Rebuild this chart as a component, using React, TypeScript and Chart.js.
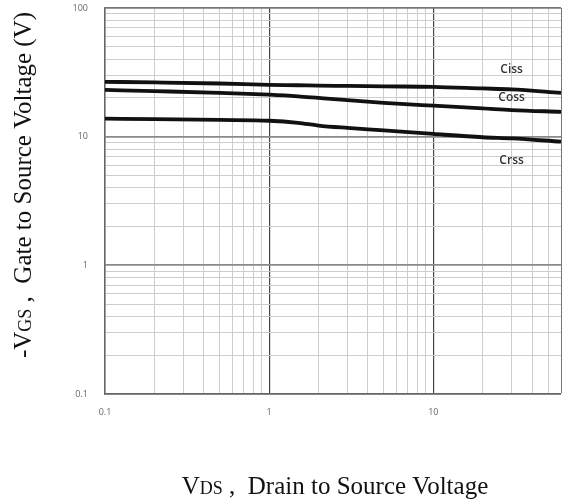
import React, { useEffect, useRef } from "react";
import { Chart, registerables } from "chart.js";

Chart.register(...registerables);

const vds = [0.1, 0.2, 0.5, 1, 1.5, 2, 3, 5, 10, 20, 30, 60];
const ciss = [26.7, 26.4, 25.9, 25.3, 25.1, 24.9, 24.8, 24.6, 24.4, 23.7, 23.3, 21.9];
const coss = [23.1, 22.6, 21.9, 21.2, 20.6, 20.0, 19.2, 18.3, 17.4, 16.6, 16.1, 15.6];
const crss = [13.8, 13.7, 13.5, 13.3, 12.8, 12.2, 11.7, 11.2, 10.5, 9.9, 9.7, 9.15];

const seriesNames = ["Ciss", "Coss", "Crss"];
// annotation anchor (data coords) for each series name
const nameX = [30, 30, 30];
const nameY = [33, 20, 6.5];

const xTicks = [0.1, 0.2, 0.3, 0.4, 0.5, 0.6, 0.7, 0.8, 0.9, 1, 2, 3, 4, 5, 6, 7, 8, 9, 10, 20, 30, 40, 50, 60];
const yTicks = [0.1, 0.2, 0.3, 0.4, 0.5, 0.6, 0.7, 0.8, 0.9, 1, 2, 3, 4, 5, 6, 7, 8, 9, 10, 20, 30, 40, 50, 60, 70, 80, 90, 100];
const xLabelVals = [0.1, 1, 10];
const yLabelVals = [0.1, 1, 10, 100];

const xTitleMain = "V";
const xTitleSub = "DS";
const xTitleRest = " ,  Drain to Source Voltage";
const yTitlePre = "-V";
const yTitleSub = "GS";
const yTitleRest = " ,  Gate to Source Voltage (V)";

const isDecade = (v: number) => Math.abs(Math.log10(v) - Math.round(Math.log10(v))) < 1e-6;
const inList = (v: number, list: number[]) => list.some((l) => Math.abs(l - v) / l < 1e-6);

const titlesPlugin = {
  id: "axisTitles",
  afterDraw(chart: any) {
    const ctx = chart.ctx;
    const area = chart.chartArea;
    const big = '25px "Liberation Serif", "Times New Roman", serif';
    const small = '18px "Liberation Serif", "Times New Roman", serif';
    ctx.save();
    ctx.fillStyle = "#111";
    ctx.textBaseline = "alphabetic";
    // x title
    ctx.font = big;
    const w1 = ctx.measureText(xTitleMain).width;
    const w3 = ctx.measureText(xTitleRest).width;
    ctx.font = small;
    const w2 = ctx.measureText(xTitleSub).width;
    const total = w1 + w2 + w3;
    let x = (area.left + area.right) / 2 + 2 - total / 2;
    const yb = 494;
    ctx.textAlign = "left";
    ctx.font = big;
    ctx.fillText(xTitleMain, x, yb);
    x += w1;
    ctx.font = small;
    ctx.fillText(xTitleSub, x, yb);
    x += w2;
    ctx.font = big;
    ctx.fillText(xTitleRest, x, yb);

    // y title (rotated)
    ctx.translate(31, 185);
    ctx.rotate(-Math.PI / 2);
    ctx.font = big;
    const a1 = ctx.measureText(yTitlePre).width;
    const a3 = ctx.measureText(yTitleRest).width;
    ctx.font = small;
    const a2 = ctx.measureText(yTitleSub).width;
    let p = -(a1 + a2 + a3) / 2;
    ctx.font = big;
    ctx.fillText(yTitlePre, p, 0);
    p += a1;
    ctx.font = small;
    ctx.fillText(yTitleSub, p, 0);
    p += a2;
    ctx.font = big;
    ctx.fillText(yTitleRest, p, 0);
    ctx.restore();

    // series names
    const xs = chart.scales.x;
    const ys = chart.scales.y;
    ctx.save();
    ctx.font = '600 12px "Open Sans", "Noto Sans", sans-serif';
    ctx.fillStyle = "#333";
    ctx.textAlign = "center";
    ctx.textBaseline = "middle";
    seriesNames.forEach((n, i) => {
      ctx.fillText(n, xs.getPixelForValue(nameX[i]), ys.getPixelForValue(nameY[i]));
    });
    ctx.restore();
  },
};

export default function App() {
  const ref = useRef<HTMLCanvasElement | null>(null);
  useEffect(() => {
    if (!ref.current) return;
    const mk = (d: number[]) => vds.map((v, i) => ({ x: v, y: d[i] }));
    const ds = [ciss, coss, crss].map((d, i) => ({
      label: seriesNames[i],
      data: mk(d),
      borderColor: "#111",
      borderWidth: 3.8,
      pointRadius: 0,
      cubicInterpolationMode: "monotone" as const,
      fill: false,
    }));
    const chart = new Chart(ref.current, {
      type: "line",
      data: { datasets: ds },
      plugins: [titlesPlugin],
      options: {
        animation: false,
        responsive: false,
        maintainAspectRatio: false,
        layout: { padding: { left: 0, top: 8, right: 7, bottom: 0 } },
        plugins: { legend: { display: false }, tooltip: { enabled: false } },
        scales: {
          x: {
            type: "logarithmic",
            min: 0.1,
            max: 60,
            afterBuildTicks: (s: any) => {
              s.ticks = xTicks.map((v) => ({ value: v }));
            },
            afterFit: (s: any) => {
              s.height = 105;
              s.paddingLeft = 0;
              s.paddingRight = 0;
              s.paddingTop = 0;
              s.paddingBottom = 0;
            },
            ticks: {
              autoSkip: false,
              maxRotation: 0,
              padding: 13,
              color: "#666",
              font: { size: 9, family: '"Open Sans", sans-serif' },
              callback: (v: any) => (inList(Number(v), xLabelVals) ? String(Number(v)) : ""),
            },
            grid: {
              drawTicks: false,
              color: (c: any) => {
                const v = c.tick?.value;
                if (v === 60) return "#777";
                return isDecade(v) ? "#444" : "#cdcdcd";
              },
              lineWidth: (c: any) => (isDecade(c.tick?.value) ? 1.2 : 1),
            },
            border: { display: true, color: "#666", width: 1.5 },
          },
          y: {
            type: "logarithmic",
            min: 0.1,
            max: 100,
            afterBuildTicks: (s: any) => {
              s.ticks = yTicks.map((v) => ({ value: v }));
            },
            afterFit: (s: any) => {
              s.width = 105;
              s.paddingLeft = 0;
              s.paddingRight = 0;
              s.paddingTop = 0;
              s.paddingBottom = 0;
            },
            ticks: {
              autoSkip: false,
              padding: 17,
              color: "#666",
              font: { size: 9, family: '"Open Sans", sans-serif' },
              callback: (v: any) => (inList(Number(v), yLabelVals) ? String(Number(v)) : ""),
            },
            grid: {
              drawTicks: false,
              color: (c: any) => {
                const v = c.tick?.value;
                if (v === 100) return "#777";
                return isDecade(v) ? "#8a8a8a" : "#cdcdcd";
              },
              lineWidth: (c: any) => (isDecade(c.tick?.value) ? 1.8 : 1),
            },
            border: { display: true, color: "#666", width: 1.5 },
          },
        },
      },
    });
    return () => chart.destroy();
  }, []);
  return (
    <div style={{ position: "fixed", left: 0, top: 0, width: 568, height: 499, background: "#fff" }}>
      <canvas ref={ref} width={568} height={499} style={{ display: "block" }} />
    </div>
  );
}
